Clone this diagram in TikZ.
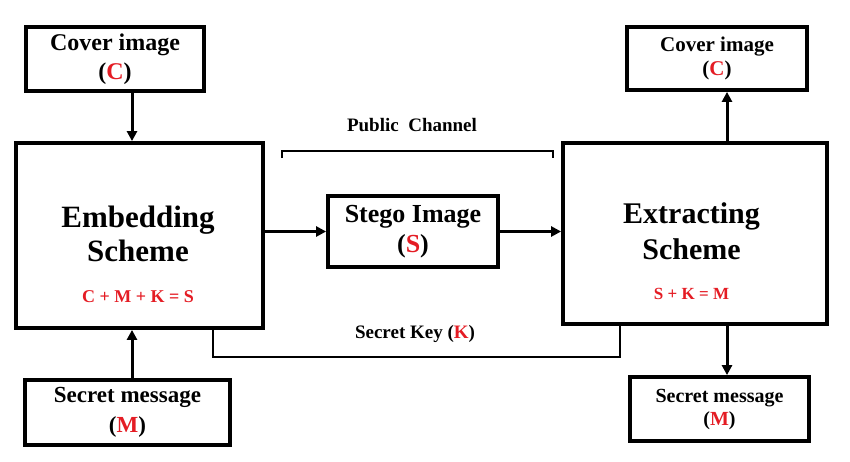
\documentclass[tikz,border=0pt]{standalone}
\usepackage{fontspec}
\setmainfont{Liberation Serif}
\usetikzlibrary{arrows.meta,positioning}
\definecolor{keyred}{RGB}{228,28,36}
\newcommand{\keyc}[1]{\textcolor{keyred}{#1}}
\tikzset{
    blockbox/.style={draw=black, line width=3.8pt, inner sep=0pt, align=center},
    txt/.style 2 args={font=\bfseries\fontsize{#1}{#2}\selectfont, align=center, inner sep=0pt},
    flow/.style={draw=black, line width=3pt, -{Triangle[length=10pt,width=10pt]}},
    keyline/.style={draw=black, line width=1.4pt},
}
\begin{document}
\begin{tikzpicture}[x=1pt,y=-1pt]
    \useasboundingbox (0,0) rectangle (850,461);
    % outer boxes
    \node[blockbox, minimum width=178pt, minimum height=64pt, txt={24}{29}] (coverL) at (115,59) {Cover image\\(\keyc{C})};
    \node[blockbox, minimum width=205pt, minimum height=65pt, txt={23}{30}] (msgL) at (127.5,412.5) {Secret message\\(\keyc{M})};
    \node[blockbox, minimum width=180pt, minimum height=63pt, txt={21}{24}] (coverR) at (717,58.5) {Cover image\\(\keyc{C})};
    \node[blockbox, minimum width=179pt, minimum height=64pt, txt={20}{23}] (msgR) at (719.5,409) {Secret message\\(\keyc{M})};
    % schemes
    \node[blockbox, minimum width=247pt, minimum height=185pt] (embed) at (139.5,235.5) {};
    \node[blockbox, minimum width=264pt, minimum height=181pt] (extract) at (695,233.5) {};
    \node[txt={31}{34}] (embedtxt) at (138,254) {Embedding\\Scheme\\[7pt]{\fontsize{18}{20}\selectfont\keyc{C + M + K = S}}};
    \node[txt={30}{36}] (extracttxt) at (691.5,251) {Extracting\\Scheme\\[4pt]{\fontsize{17}{20}\selectfont\keyc{S + K = M}}};
    \node[blockbox, minimum width=170pt, minimum height=71pt, txt={26}{30}] (stego) at (413,231.5) {Stego Image\\(\keyc{S})};
    % arrows
    \draw[flow] ([xshift=17pt]coverL.south) -- ([xshift=17pt]coverL.south |- embed.north);
    \draw[flow] ([xshift=4.5pt]msgL.north) -- ([xshift=4.5pt]msgL.north |- embed.south);
    \draw[flow] (embed.east |- stego.west) -- (stego.west);
    \draw[flow] (stego.east) -- (stego.east -| extract.west);
    \draw[flow] ([xshift=10pt]coverR.south |- extract.north) -- ([xshift=10pt]coverR.south);
    \draw[flow] ([xshift=7.5pt]msgR.north |- extract.south) -- ([xshift=7.5pt]msgR.north);
    % public channel
    \node[txt={19}{22}] (chanlabel) at (412,125) {Public\ \ Channel};
    \coordinate (chanL) at (282,158);
    \coordinate (chanR) at (553,158);
    \draw[draw=black, line width=2.5pt] (chanL) -- ++(0,-7) -| (chanR);
    % secret key
    \coordinate (keyL) at (213,357);
    \coordinate (keyR) at (620,357);
    \draw[keyline] (embed.south -| keyL) -- (keyL) -- (keyR) -- (extract.south -| keyR);
    \node[txt={19}{22}] (keylabel) at (415,334) {Secret Key (\keyc{K})};
\end{tikzpicture}
\end{document}
